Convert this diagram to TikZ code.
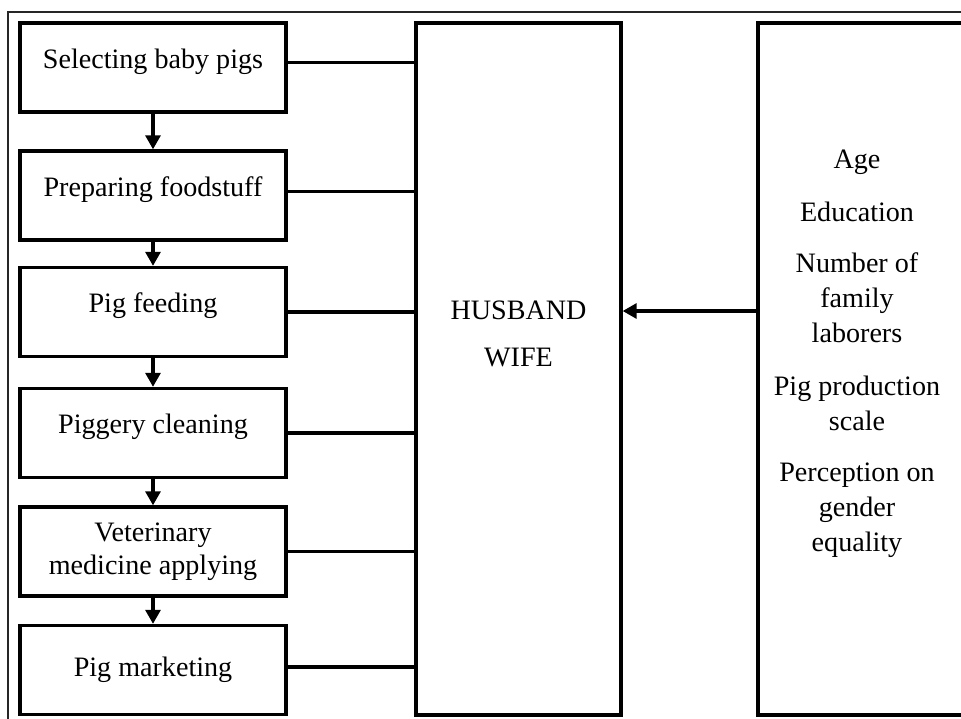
\documentclass[tikz,border=0pt]{standalone}
\usepackage{fontspec}
\setmainfont{Liberation Serif}
\usetikzlibrary{arrows.meta}
\begin{document}
\begin{tikzpicture}[x=0.02cm,y=-0.02cm]
\tikzstyle{activity}=[draw,line width=1.9pt,minimum width=5.32cm,minimum height=1.78cm,inner sep=0pt,font=\fontsize{16}{19}\selectfont,align=center]
\tikzstyle{flow}=[line width=1.9pt,-{Triangle[length=8pt,width=8.5pt]}]
\tikzstyle{link}=[line width=1.9pt]
\tikzstyle{words}=[font=\fontsize{16}{20}\selectfont,align=center,inner sep=0pt]
\useasboundingbox (0,0) rectangle (961,719);
\draw[line width=0.6pt,black!85] (8,12) rectangle (1000,760);
\node[activity,text height=11pt,text depth=10pt] (A1) at (153,67.5) {Selecting baby pigs};
\node[activity,text height=11pt,text depth=10pt] (A2) at (153,195.5) {Preparing foodstuff};
\node[activity,text height=11pt,text depth=10pt] (A3) at (153,312) {Pig feeding};
\node[activity,text height=11pt,text depth=10pt] (A4) at (153,433) {Piggery cleaning};
\node[activity] (A5) at (153,551.5) {Veterinary\\medicine applying};
\node[activity] (A6) at (153,670) {Pig marketing};
\node[activity,minimum width=4.1cm,minimum height=13.84cm] (H) at (518.5,369) {};
\node[words] (HW) at (518.5,334) {HUSBAND\\[7pt]WIFE};
\node[activity,minimum width=4.34cm,minimum height=13.84cm] (F) at (866.5,369) {};
\node[words] (FT) at (857,354) {Age\\[10pt]Education\\[9pt]Number of\\family\\laborers\\[10pt]Pig production\\scale\\[9pt]Perception on\\gender\\equality};
\draw[flow] (A1) -- (A2);
\draw[flow] (A2) -- (A3);
\draw[flow] (A3) -- (A4);
\draw[flow] (A4) -- (A5);
\draw[flow] (A5) -- (A6);
\draw[link] ([yshift=0.1cm]A1.east) -- ([yshift=0.1cm]A1.east -| H.west);
\draw[link] ([yshift=0.08cm]A2.east) -- ([yshift=0.08cm]A2.east -| H.west);
\draw[link] (A3.east) -- (A3.east -| H.west);
\draw[link] (A4.east) -- (A4.east -| H.west);
\draw[link] (A5.east) -- (A5.east -| H.west);
\draw[link] ([yshift=0.06cm]A6.east) -- ([yshift=0.06cm]A6.east -| H.west);
\draw[flow] ([yshift=1.16cm]F.west) -- ([yshift=1.16cm]F.west -| H.east);
\end{tikzpicture}
\end{document}
